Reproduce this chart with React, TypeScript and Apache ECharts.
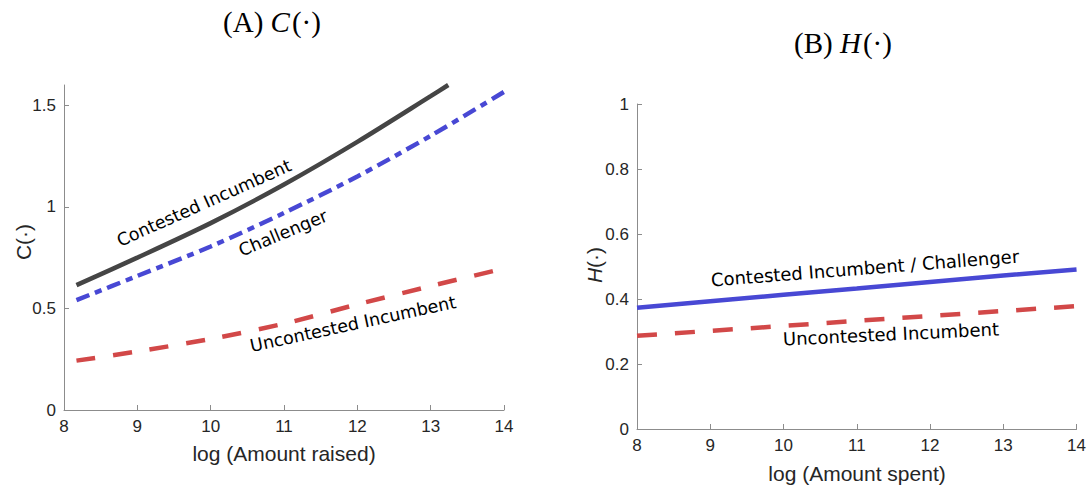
import React, { useEffect, useRef } from 'react';
import * as echarts from 'echarts';

// Panel A: C(.) vs log(Amount raised)
const contestedX = [8.17, 9, 10, 11, 12, 13, 13.24];
const contestedC = [0.615, 0.75, 0.92, 1.11, 1.32, 1.545, 1.6];
const challengerX = [8.17, 9, 10, 11, 12, 13, 14];
const challengerC = [0.541, 0.66, 0.805, 0.97, 1.15, 1.35, 1.566];
const uncontestedX = [8.17, 9, 10, 11, 12, 13, 14];
const uncontestedC = [0.243, 0.288, 0.35, 0.425, 0.52, 0.61, 0.697];

// Panel B: H(.) vs log(Amount spent)
const spentX = [8, 9, 10, 11, 12, 13, 14];
const contestedH = [0.373, 0.393, 0.413, 0.432, 0.452, 0.472, 0.491];
const uncontestedH = [0.287, 0.302, 0.317, 0.333, 0.348, 0.363, 0.378];

const titleA = ['(A) ', 'C', '(·)'];
const titleB = ['(B) ', 'H', '(·)'];
const xNameA = 'log (Amount raised)';
const xNameB = 'log (Amount spent)';
const labelsA = ['Contested Incumbent', 'Challenger', 'Uncontested Incumbent'];
const labelsB = ['Contested Incumbent / Challenger', 'Uncontested Incumbent'];

const GRAY = '#454545';
const BLUE = '#4848d4';
const RED = '#d24848';
const AXIS = '#8c8c8c';
const TXT = '#262626';
const SANS = 'Liberation Sans, Arial, sans-serif';
const SERIF = 'Liberation Serif, Times New Roman, serif';
const LBL = 'DejaVu Sans, sans-serif';

const pairs = (xs: number[], ys: number[]) => xs.map((x, i) => [x, ys[i]]);

export default function App() {
  const ref = useRef<HTMLDivElement>(null);
  useEffect(() => {
    if (!ref.current) return;
    const chart = echarts.init(ref.current, null, { renderer: 'svg' });
    const axisCommon = {
      axisLine: { show: true, lineStyle: { color: AXIS, width: 1 } },
      axisTick: { show: true, inside: true, length: 5, lineStyle: { color: AXIS, width: 1 } },
      axisLabel: { color: TXT, fontSize: 17, fontFamily: SANS, margin: 8 },
      splitLine: { show: false },
    };
    const deg = (d: number) => (d * Math.PI) / 180;
    const rotLabel = (text: string, x: number, y: number, a: number, size: number) => ({
      type: 'text',
      x,
      y,
      rotation: deg(a),
      style: {
        text,
        fill: '#000',
        font: `${size}px ${LBL}`,
        align: 'center',
        verticalAlign: 'middle',
      },
    });
    const titleText = (parts: string[], x: number, y: number) => ({
      type: 'text',
      x,
      y,
      style: {
        text: `{n|${parts[0]}}{i|${parts[1]}}{p|${parts[2]}}`,
        align: 'center',
        verticalAlign: 'middle',
        rich: {
          n: { fontFamily: SERIF, fontSize: 29, fill: '#000' },
          i: { fontFamily: SERIF, fontSize: 29, fontStyle: 'italic', fill: '#000', padding: [0, 2, 0, 0] },
          p: { fontFamily: SERIF, fontSize: 29, fill: '#000' },
        },
      },
    });
    chart.setOption({
      animation: false,
      grid: [
        { left: 64, right: 585, top: 85, bottom: 77 },
        { left: 637, right: 12, top: 104, bottom: 58 },
      ],
      xAxis: [
        { ...axisCommon, type: 'value', gridIndex: 0, min: 8, max: 14, interval: 1 },
        { ...axisCommon, type: 'value', gridIndex: 1, min: 8, max: 14, interval: 1 },
      ],
      yAxis: [
        { ...axisCommon, type: 'value', gridIndex: 0, min: 0, max: 1.6, interval: 0.5,
          axisLabel: { ...axisCommon.axisLabel, showMaxLabel: false, formatter: (v: number) => (v > 1.55 ? '' : String(v)) } },
        { ...axisCommon, type: 'value', gridIndex: 1, min: 0, max: 1, interval: 0.2 },
      ],
      series: [
        {
          type: 'line', xAxisIndex: 0, yAxisIndex: 0, name: labelsA[0],
          data: pairs(contestedX, contestedC), smooth: 0.3, showSymbol: false,
          lineStyle: { color: GRAY, width: 4.5 },
        },
        {
          type: 'line', xAxisIndex: 0, yAxisIndex: 0, name: labelsA[1],
          data: pairs(challengerX, challengerC), smooth: 0.3, showSymbol: false,
          lineStyle: { color: BLUE, width: 4.5, type: [14, 6, 7, 6] },
        },
        {
          type: 'line', xAxisIndex: 0, yAxisIndex: 0, name: labelsA[2],
          data: pairs(uncontestedX, uncontestedC), smooth: 0.3, showSymbol: false,
          lineStyle: { color: RED, width: 4.5, type: [19, 18] },
        },
        {
          type: 'line', xAxisIndex: 1, yAxisIndex: 1, name: labelsB[0],
          data: pairs(spentX, contestedH), showSymbol: false,
          lineStyle: { color: BLUE, width: 4.5 },
        },
        {
          type: 'line', xAxisIndex: 1, yAxisIndex: 1, name: labelsB[1],
          data: pairs(spentX, uncontestedH), showSymbol: false,
          lineStyle: { color: RED, width: 4.5, type: [20, 18] },
        },
      ],
      graphic: [
        titleText(titleA, 272, 22),
        titleText(titleB, 843, 43),
        {
          type: 'text', x: 23, y: 242, rotation: deg(90),
          style: { text: 'C(·)', font: `21px ${SANS}`, fill: TXT, align: 'center', verticalAlign: 'middle' },
        },
        {
          type: 'text', x: 594, y: 265, rotation: deg(90),
          style: {
            text: '{i|H}{n|(·)}', align: 'center', verticalAlign: 'middle',
            rich: {
              i: { fontFamily: SANS, fontSize: 21, fontStyle: 'italic', fill: TXT },
              n: { fontFamily: SANS, fontSize: 21, fill: TXT },
            },
          },
        },
        {
          type: 'text', x: 284, y: 453,
          style: { text: xNameA, font: `21px ${SANS}`, fill: TXT, align: 'center', verticalAlign: 'middle' },
        },
        {
          type: 'text', x: 857, y: 473,
          style: { text: xNameB, font: `21px ${SANS}`, fill: TXT, align: 'center', verticalAlign: 'middle' },
        },
        rotLabel(labelsA[0], 204, 203, 24, 17.5),
        rotLabel(labelsA[1], 283, 233, 22.6, 17.5),
        rotLabel(labelsA[2], 353, 324, 12.2, 17.5),
        rotLabel(labelsB[0], 865, 268, 4.4, 18),
        rotLabel(labelsB[1], 891, 334, 2.7, 18),
      ],
    });
    return () => chart.dispose();
  }, []);
  return <div ref={ref} style={{ width: 1089, height: 487, position: 'absolute', left: 0, top: 0 }} />;
}
